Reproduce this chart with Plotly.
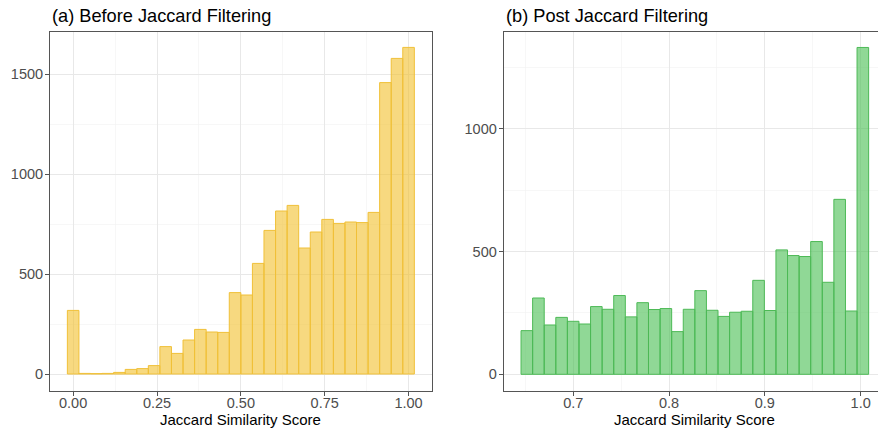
import plotly.graph_objects as go

# ---- data ----
before_counts = [318, 3, 2, 3, 8, 23, 27, 42, 137, 103, 170, 223, 210, 208, 407,
                 395, 553, 718, 815, 843, 630, 710, 773, 753, 760, 757, 808, 1457, 1578, 1633]
before_bin_start = -1 / 58
before_bin_width = 1 / 29

post_counts = [178, 311, 201, 232, 216, 205, 276, 265, 321, 234, 292, 264, 268, 174, 265,
               341, 261, 236, 253, 257, 383, 260, 507, 484, 480, 541, 375, 713, 258, 1332]
post_bin_start = 0.6455
post_bin_width = 0.012094

titles = ["(a) Before Jaccard Filtering", "(b) Post Jaccard Filtering"]
x_title = "Jaccard Similarity Score"

before_x = [before_bin_start + before_bin_width * (i + 0.5) for i in range(len(before_counts))]
post_x = [post_bin_start + post_bin_width * (i + 0.5) for i in range(len(post_counts))]

W, H = 878, 428
FONT = "Liberation Sans, Arial, Helvetica, sans-serif"

fig = go.Figure()
fig.add_trace(go.Bar(x=before_x, y=before_counts, width=before_bin_width,
                     marker=dict(color="rgba(242,194,50,0.62)",
                                 line=dict(color="#F0C038", width=1)),
                     xaxis="x", yaxis="y", showlegend=False, hoverinfo="skip"))
fig.add_trace(go.Bar(x=post_x, y=post_counts, width=post_bin_width,
                     marker=dict(color="rgba(70,190,80,0.6)",
                                 line=dict(color="#4DB956", width=1)),
                     xaxis="x2", yaxis="y2", showlegend=False, hoverinfo="skip"))

grid = "#E8E8E8"
minor_grid = "#F1F1F1"
line_col = "#555555"
tick_font = dict(family=FONT, size=14.5, color="#4D4D4D")

def ax(**kw):
    base = dict(showgrid=True, gridcolor=grid, gridwidth=1, zeroline=False,
                showline=True, linecolor=line_col, linewidth=1,
                ticks="outside", ticklen=4, tickcolor=line_col, tickwidth=1,
                tickfont=tick_font)
    base.update(kw)
    return base

y_bot = (428 - 391) / H
y_top = (428 - 32) / H

fig.update_layout(
    width=W, height=H,
    margin=dict(l=0, r=0, t=0, b=0),
    paper_bgcolor="white", plot_bgcolor="white",
    bargap=0,
    xaxis=ax(domain=[50 / W, 431.7 / W], range=[-0.069, 1.069],
             tickvals=[0, 0.25, 0.5, 0.75, 1.0],
             ticktext=["0.00", "0.25", "0.50", "0.75", "1.00"],
             minor=dict(dtick=0.125, tick0=0, showgrid=True, gridcolor=minor_grid, gridwidth=0.6),
             mirror=True, anchor="y", ticklabelstandoff=-5),
    yaxis=ax(domain=[y_bot, y_top], range=[-85, 1710], dtick=500, tick0=0,
             minor=dict(dtick=250, tick0=0, showgrid=True, gridcolor=minor_grid, gridwidth=0.6),
             mirror=True, anchor="x", ticklabelstandoff=-1),
    xaxis2=ax(domain=[503.7 / W, 1.0], range=[0.6274, 1.0181],
              tickvals=[0.7, 0.8, 0.9, 1.0],
              ticktext=["0.7", "0.8", "0.9", "1.0"],
              minor=dict(dtick=0.05, tick0=0.6, showgrid=True, gridcolor=minor_grid, gridwidth=0.6),
              mirror=True, anchor="y2", ticklabelstandoff=-5),
    yaxis2=ax(domain=[y_bot, y_top], range=[-68, 1395], dtick=500, tick0=0,
              minor=dict(dtick=250, tick0=0, showgrid=True, gridcolor=minor_grid, gridwidth=0.6),
              anchor="x2", ticklabelstandoff=-1),
)

annos = [
    dict(text=titles[0], x=50 / W, y=1 - 16 / H, xanchor="left", yanchor="middle",
         font=dict(family=FONT, size=18.2, color="black")),
    dict(text=titles[1], x=503.7 / W, y=1 - 16 / H, xanchor="left", yanchor="middle",
         font=dict(family=FONT, size=18.2, color="black")),
    dict(text=x_title, x=240.8 / W, y=1 - 419 / H, xanchor="center", yanchor="middle",
         font=dict(family=FONT, size=15, color="black")),
    dict(text=x_title, x=694.8 / W, y=1 - 419 / H, xanchor="center", yanchor="middle",
         font=dict(family=FONT, size=15, color="black")),
]
for a in annos:
    a.update(xref="paper", yref="paper", showarrow=False)
fig.update_layout(annotations=annos)

fig.write_html(
    "out.html",
    config={"displayModeBar": False, "staticPlot": True},
    post_script="document.body.style.margin='0';document.body.style.padding='0';"
                "document.body.style.overflow='hidden';",
)
